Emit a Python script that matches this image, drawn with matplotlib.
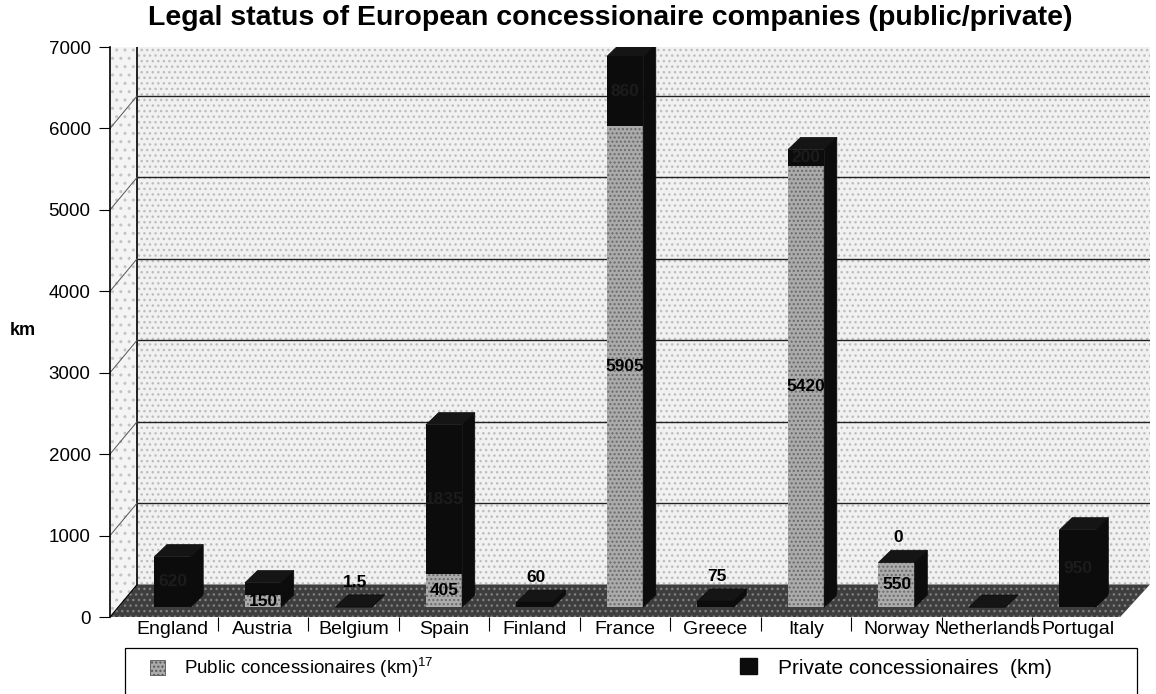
import numpy as np
import matplotlib
matplotlib.use("Agg")
import matplotlib.pyplot as plt
from matplotlib.patches import Polygon, Rectangle, Patch

plt.rcParams['font.family'] = ['Liberation Sans', 'DejaVu Sans']
plt.rcParams['mathtext.default'] = 'regular'

# data (km)
countries = ["England", "Austria", "Belgium", "Spain", "Finland", "France",
             "Greece", "Italy", "Norway", "Netherlands", "Portugal"]
public_km = [0, 150, 0, 405, 0, 5905, 0, 5420, 550, 0, 0]
private_km = [620, 150, 1.5, 1835, 60, 860, 75, 200, 0, 0, 950]
public_labels = ["", "150", "", "405", "", "5905", "", "5420", "550", "", ""]
private_labels = ["620", "", "1.5", "1835", "60", "860", "75", "200", "0", "", "950"]
yticks = [0, 1000, 2000, 3000, 4000, 5000, 6000, 7000]

GRAY = '#ababab'
BLACK = '#0c0c0c'

fig = plt.figure(figsize=(11.56, 6.94), dpi=100)
ax = fig.add_axes([110/1156, 77/694, 1040/1156, 570/694])
x0, x1 = -0.69, 10.8
ax.set_xlim(x0, x1)
ax.set_ylim(0, 7000)

# fake 3d box: depth offsets (x in category units, y in km)
wdx, wdy = 0.30, 400
# back wall, left wall, floor
ax.add_patch(Rectangle((x0 + wdx, wdy), x1 - x0, 7000, facecolor='#f1f1f1',
                       edgecolor='#bdbdbd', hatch='...', lw=0, zorder=0))
ax.add_patch(Polygon([(x0, 0), (x0 + wdx, wdy), (x0 + wdx, 7000), (x0, 7000)],
                     facecolor='#f4f4f4', edgecolor='#c4c4c4', hatch='..',
                     lw=0, zorder=0))
ax.plot([x0 + wdx, x0 + wdx], [wdy, 7000], color='k', lw=1.2, zorder=1)
for v in yticks[1:-1]:
    ax.plot([x0 + wdx, x1], [v + wdy, v + wdy], color='#222222', lw=1.0, zorder=1)
    ax.plot([x0, x0 + wdx], [v, v + wdy], color='#555555', lw=0.7, zorder=1)
ax.add_patch(Polygon([(x0, 0), (10.47, 0), (x1, wdy), (x0 + wdx, wdy)],
                     facecolor='#3e3e3e', edgecolor='#808080', hatch='...',
                     lw=0, zorder=2))
ax.plot([x0, x0 + wdx], [0, wdy], color='k', lw=0.8, zorder=2)

# bars
x = np.arange(len(countries))
w = 0.40
bdx, bdy = 0.14, 150
base = 120
pub = np.array(public_km, dtype=float)
priv = np.array(private_km, dtype=float)
ax.bar(x, pub, w, bottom=base, color=GRAY, edgecolor='#6a6a6a', hatch='....',
       lw=0, zorder=3)
ax.bar(x, priv, w, bottom=base + pub, color=BLACK, lw=0, zorder=3)
for i in range(len(x)):
    top = base + pub[i] + priv[i]
    r = x[i] + w / 2
    l = x[i] - w / 2
    ax.add_patch(Polygon([(r, base), (r + bdx, base + bdy), (r + bdx, top + bdy), (r, top)],
                         facecolor=BLACK, edgecolor=BLACK, lw=0.5, zorder=3))
    ax.add_patch(Polygon([(l, top), (l + bdx, top + bdy), (r + bdx, top + bdy), (r, top)],
                         facecolor='#151515', edgecolor=BLACK, lw=0.5, zorder=3))

# value labels (private ones on black are almost invisible, as in the scan)
for i in range(len(x)):
    if public_labels[i]:
        ax.text(x[i], base + pub[i] / 2, public_labels[i], ha='center', va='center',
                fontsize=12.5, fontweight='bold', color='k', zorder=5)
    if private_labels[i]:
        top = base + pub[i] + priv[i]
        if priv[i] < 100:
            ax.text(x[i] + 0.02, top + bdy + 60, private_labels[i], ha='center',
                    va='bottom', fontsize=12.5, fontweight='bold', color='k', zorder=5)
        else:
            ax.text(x[i], base + pub[i] + priv[i] / 2, private_labels[i], ha='center',
                    va='center', fontsize=12.5, fontweight='bold', color='#1c1c1c', zorder=5)

for s in ['top', 'right', 'bottom']:
    ax.spines[s].set_visible(False)
ax.spines['left'].set_linewidth(1.2)
ax.set_yticks(yticks)
ax.set_yticklabels([str(v) for v in yticks], fontsize=13.5)
ax.tick_params(axis='y', length=8, width=0.8, pad=6)
ax.set_xticks(x)
ax.set_xticklabels(countries, fontsize=14)
ax.tick_params(axis='x', length=0, pad=3)
ax.set_xticks(x[:-1] + 0.5, minor=True)
ax.tick_params(axis='x', which='minor', length=10, width=0.8, direction='out')
ax.set_ylabel('km', fontsize=13, fontweight='bold', rotation=0, va='center', ha='center')
ax.yaxis.set_label_coords(-0.084, 0.503)

fig.text(0.528, 0.974, 'Legal status of European concessionaire companies (public/private)',
         ha='center', va='center', fontsize=20.5, fontweight='bold')

# legend: frame drawn by hand, one entry on each side
fig.add_artist(Rectangle((125/1156, -0.05), (1137-125)/1156, (694-648)/694 + 0.05,
                         transform=fig.transFigure, facecolor='white',
                         edgecolor='k', lw=0.9))
h_pub = Patch(facecolor=GRAY, edgecolor='#555555', hatch='....', lw=0.6)
h_priv = Patch(facecolor=BLACK, edgecolor=BLACK)
for h, lab, xpos, fs in [(h_pub, 'Public concessionaires (km)$^{17}$', 150/1156, 13.5),
                         (h_priv, 'Private concessionaires  (km)', 740/1156, 15)]:
    fig.legend([h], [lab], loc='center left', bbox_to_anchor=(xpos, 1 - 668/694),
               fontsize=fs, frameon=False, handlelength=0.8, handleheight=0.8,
               borderpad=0, borderaxespad=0, handletextpad=1.0)

fig.savefig('out.png', dpi=100)
